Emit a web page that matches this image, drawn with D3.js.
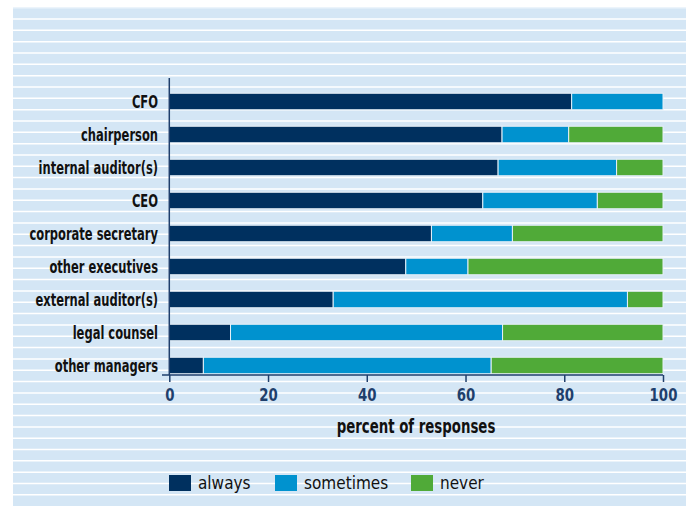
<!DOCTYPE html>
<html>
<head>
<meta charset="utf-8">
<script src="https://cdn.jsdelivr.net/npm/d3@7"></script>
<style>
  body { margin: 0; background: #fff; }
  svg { display: block; }
</style>
</head>
<body>
<div id="chart"></div>
<script>
// data (percent of responses)
const roles = ['CFO', 'chairperson', 'internal auditor(s)', 'CEO', 'corporate secretary',
  'other executives', 'external auditor(s)', 'legal counsel', 'other managers'];
const always    = [81.5, 67.4, 66.6, 63.5, 53.1, 47.9, 33.2, 12.4, 6.9];
const sometimes = [18.5, 13.5, 24.0, 23.2, 16.4, 12.6, 59.6, 55.1, 58.3];
const never     = [0.0, 19.1, 9.4, 13.3, 30.5, 39.5, 7.2, 32.5, 34.8];
const seriesKeys = ['always', 'sometimes', 'never'];
const xTicks = [0, 20, 40, 60, 80, 100];

const colors = { always: '#00305f', sometimes: '#0092cf', never: '#50aa38' };
const font = '"DejaVu Sans Condensed", "Liberation Sans", sans-serif';

// no condensed gothic available, so squeeze the glyphs horizontally
function squeeze(sel, factor) {
  sel.each(function () {
    const w = this.getComputedTextLength();
    d3.select(this)
      .attr('textLength', w * factor)
      .attr('lengthAdjust', 'spacingAndGlyphs');
  });
}

const W = 691, H = 506;
const svg = d3.select('#chart').append('svg')
  .attr('width', W).attr('height', H)
  .style('font-family', font);

// striped panel background
svg.append('rect')
  .attr('x', 13).attr('y', 7)
  .attr('width', 673).attr('height', H - 7)
  .attr('fill', '#d4e6f5');
const stripeStep = 11.33;
const stripes = d3.range(7.67, H, stripeStep);
svg.append('g').selectAll('line')
  .data(stripes)
  .enter().append('line')
  .attr('x1', 13).attr('x2', 686)
  .attr('y1', d => d).attr('y2', d => d)
  .attr('stroke', (d, i) => i === 0 ? '#ecf4fb' : '#ffffff')
  .attr('stroke-width', 1.5);

// scales
const x = d3.scaleLinear().domain([0, 100]).range([169.3, 663]);
const y = d3.scaleBand().domain(roles).range([85, 382])
  .paddingInner(0.5).paddingOuter(0.25);

const table = roles.map((r, i) => ({ role: r, always: always[i], sometimes: sometimes[i], never: never[i] }));
const stacked = d3.stack().keys(seriesKeys)(table);

// bars
svg.append('g').selectAll('g')
  .data(stacked)
  .enter().append('g')
  .attr('fill', d => colors[d.key])
  .selectAll('rect')
  .data(d => d.filter(p => p[1] - p[0] > 0))
  .enter().append('rect')
  .attr('x', d => x(d[0]))
  .attr('y', d => y(d.data.role))
  .attr('width', d => x(d[1]) - x(d[0]))
  .attr('height', y.bandwidth())
  .attr('stroke', '#e6f0f8')
  .attr('stroke-width', 1);

const axisColor = '#1f3f6c';

// x axis
const xAxis = svg.append('g')
  .attr('transform', 'translate(0,375)')
  .call(d3.axisBottom(x).tickValues(xTicks).tickSize(7).tickSizeOuter(0).tickPadding(6));
xAxis.select('.domain').remove();
xAxis.append('line')
  .attr('x1', 162).attr('x2', x(100))
  .attr('stroke', axisColor).attr('stroke-width', 1.5);
xAxis.selectAll('.tick line').attr('stroke', axisColor).attr('stroke-width', 1.5);
xAxis.selectAll('.tick text')
  .attr('fill', axisColor)
  .style('font-family', font)
  .style('font-weight', 'bold')
  .style('font-size', '18.5px')
  .call(squeeze, 0.8);

// y axis
svg.append('line')
  .attr('x1', x(0)).attr('x2', x(0))
  .attr('y1', 78).attr('y2', 375)
  .attr('stroke', axisColor).attr('stroke-width', 1.5);
svg.append('g').selectAll('text')
  .data(roles)
  .enter().append('text')
  .attr('x', 158)
  .attr('y', d => y(d) + y.bandwidth() / 2)
  .attr('dy', '0.38em')
  .attr('text-anchor', 'end')
  .attr('font-weight', 'bold')
  .attr('font-size', '17.5px')
  .attr('fill', '#111')
  .text(d => d)
  .call(squeeze, 0.73);

// x label
svg.append('text')
  .attr('x', 416).attr('y', 433)
  .attr('text-anchor', 'middle')
  .attr('font-weight', 'bold')
  .attr('font-size', '20px')
  .attr('fill', '#111')
  .text('percent of responses')
  .call(squeeze, 0.74);

// legend
const legendX = [169, 275, 411];
const legend = svg.append('g').selectAll('g')
  .data(seriesKeys)
  .enter().append('g')
  .attr('transform', (d, i) => `translate(${legendX[i]},475)`);
legend.append('rect')
  .attr('width', 22).attr('height', 16)
  .attr('fill', d => colors[d]);
legend.append('text')
  .attr('x', 29).attr('y', 14)
  .attr('font-size', '17px')
  .attr('fill', '#111')
  .text(d => d);
</script>
</body>
</html>
